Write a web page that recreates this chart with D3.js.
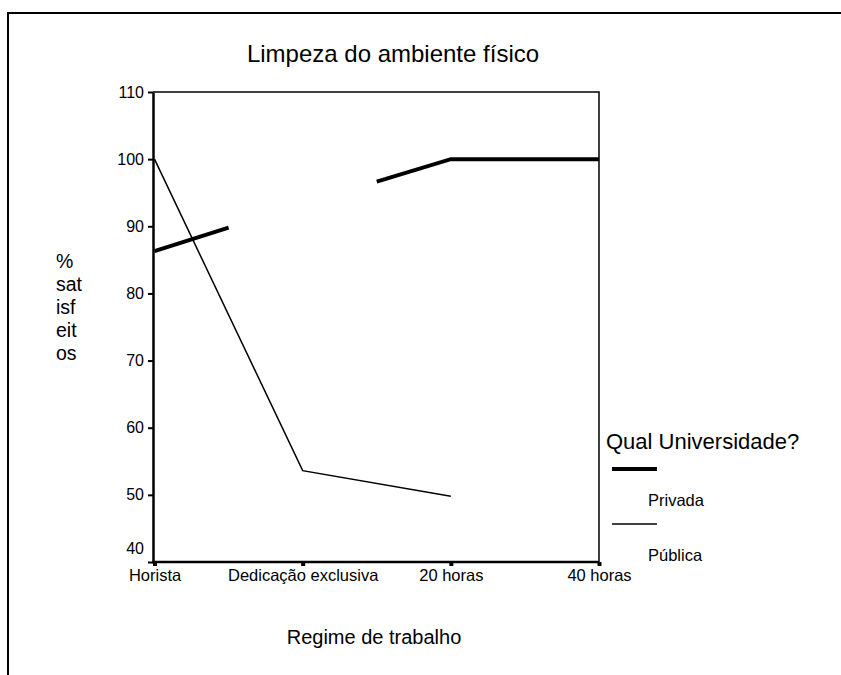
<!DOCTYPE html>
<html>
<head>
<meta charset="utf-8">
<script src="https://cdn.jsdelivr.net/npm/d3@7"></script>
<style>
  body { margin: 0; background: #fff; }
  text { font-family: "Liberation Sans", Arial, sans-serif; fill: #000; }
</style>
</head>
<body>
<div id="chart"></div>
<script>
// Categories on the x axis
var categories = ["Horista", "Dedicação exclusiva", "20 horas", "40 horas"];
// % satisfeitos, Privada (Dedicação exclusiva not plotted, only the half segments show)
var privada = [86.3, 93.3, 100, 100];
var privadaShown = [true, false, true, true];
// % satisfeitos, Pública (no value for 40 horas)
var publica = [100, 53.6, 49.8, null];
var yTicks = [40, 50, 60, 70, 80, 90, 100, 110];
var yLabelLines = ["%", "sat", "isf", "eit", "os"];
var legendNames = ["Privada", "Pública"];

var width = 841, height = 675;

var svg = d3.select("#chart").append("svg")
  .attr("width", width)
  .attr("height", height);

// outer frame (left and top only)
svg.append("path")
  .attr("d", "M8,675 L8,13 L841,13")
  .attr("fill", "none")
  .attr("stroke", "#000")
  .attr("stroke-width", 2);

// scales
var x = d3.scalePoint().domain(categories).range([154.5, 599]);
var y = d3.scaleLinear().domain([40, 110]).range([562, 92]);

// plot box: top and right thin
svg.append("path")
  .attr("d", "M153," + y(110) + " L599," + y(110) + " L599," + y(40))
  .attr("fill", "none")
  .attr("stroke", "#000")
  .attr("stroke-width", 1.5);

// Y axis
var yAxis = svg.append("g")
  .attr("transform", "translate(153,0)")
  .call(d3.axisLeft(y).tickValues(yTicks).tickSize(5).tickSizeOuter(0).tickPadding(4));
yAxis.select(".domain").attr("stroke-width", 2.5);
yAxis.selectAll(".tick line").attr("stroke-width", 2);
yAxis.selectAll(".tick text")
  .attr("font-size", 16)
  .attr("font-family", "Liberation Sans, Arial, sans-serif")
  .attr("dy", function(d) { return d == 40 ? "-0.55em" : "0.32em"; });

// X axis
var xAxis = svg.append("g")
  .attr("transform", "translate(0," + y(40) + ")")
  .call(d3.axisBottom(x).tickSize(4).tickSizeOuter(0).tickPadding(3));
xAxis.select(".domain").attr("stroke-width", 2.5).attr("d", "M152,0H599");
xAxis.selectAll(".tick line").attr("stroke-width", 4);
xAxis.selectAll(".tick text")
  .attr("font-size", 16.5)
  .attr("font-family", "Liberation Sans, Arial, sans-serif");

// Privada line: full segment between shown points, half segment next to a hidden point
var privSegs = [];
for (var i = 0; i < categories.length - 1; i++) {
  var x0 = x(categories[i]), y0 = y(privada[i]);
  var x1 = x(categories[i + 1]), y1 = y(privada[i + 1]);
  var xm = (x0 + x1) / 2, ym = (y0 + y1) / 2;
  if (privadaShown[i] && privadaShown[i + 1]) privSegs.push([[x0, y0], [x1, y1]]);
  else if (privadaShown[i]) privSegs.push([[x0, y0], [xm, ym]]);
  else if (privadaShown[i + 1]) privSegs.push([[xm, ym], [x1, y1]]);
}
// join touching segments so the corners look clean
var privPaths = [];
privSegs.forEach(function(s) {
  var last = privPaths[privPaths.length - 1];
  if (last && last[last.length - 1][0] == s[0][0] && last[last.length - 1][1] == s[0][1]) last.push(s[1]);
  else privPaths.push([s[0], s[1]]);
});
svg.selectAll(".priv")
  .data(privPaths)
  .enter()
  .append("path")
  .attr("class", "priv")
  .attr("fill", "none")
  .attr("stroke", "#000")
  .attr("stroke-width", 4)
  .attr("d", d3.line());

// Pública line
var pubData = categories.map(function(c, i) { return { c: c, v: publica[i] }; });
svg.append("path")
  .datum(pubData)
  .attr("fill", "none")
  .attr("stroke", "#000")
  .attr("stroke-width", 1.5)
  .attr("d", d3.line()
    .defined(function(d) { return d.v != null; })
    .x(function(d) { return x(d.c); })
    .y(function(d) { return y(d.v); }));

// title
svg.append("text")
  .attr("x", 393).attr("y", 62)
  .attr("text-anchor", "middle")
  .attr("font-size", 24)
  .text("Limpeza do ambiente físico");

// x axis title
svg.append("text")
  .attr("x", 374).attr("y", 644)
  .attr("text-anchor", "middle")
  .attr("font-size", 20)
  .text("Regime de trabalho");

// y axis title, broken into short lines
svg.selectAll(".ylab")
  .data(yLabelLines)
  .enter()
  .append("text")
  .attr("class", "ylab")
  .attr("x", 56)
  .attr("y", function(d, i) { return 268 + i * 23; })
  .attr("font-size", 19.5)
  .text(function(d) { return d; });

// legend
svg.append("text")
  .attr("x", 606).attr("y", 449)
  .attr("font-size", 22)
  .text("Qual Universidade?");
var leg = svg.selectAll(".leg")
  .data(legendNames)
  .enter()
  .append("g")
  .attr("class", "leg")
  .attr("transform", function(d, i) { return "translate(0," + (i * 55) + ")"; });
leg.append("line")
  .attr("x1", 612).attr("x2", 657)
  .attr("y1", 469).attr("y2", 469)
  .attr("stroke", "#000")
  .attr("stroke-width", function(d, i) { return i == 0 ? 4 : 1.5; });
leg.append("text")
  .attr("x", 648).attr("y", 506)
  .attr("font-size", 16.5)
  .text(function(d) { return d; });
</script>
</body>
</html>
